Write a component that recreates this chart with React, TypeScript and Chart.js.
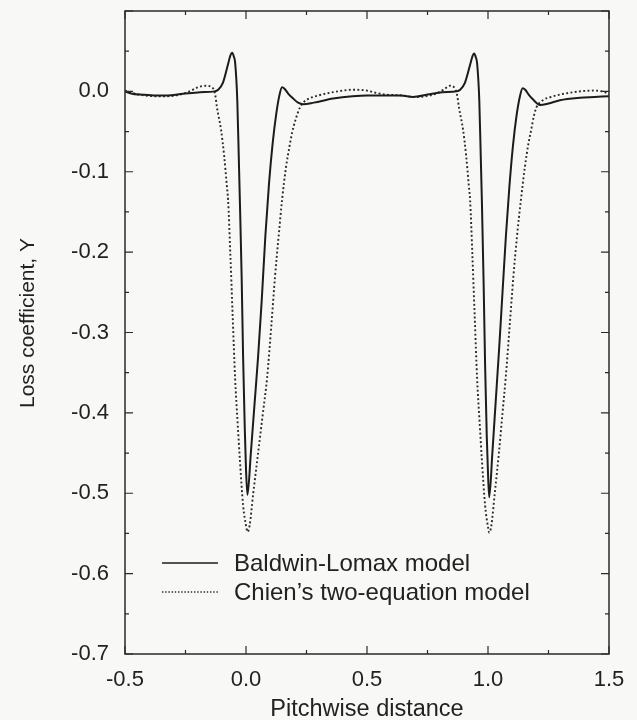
import { useEffect, useRef } from "react";
import { Chart, registerables } from "chart.js";

Chart.register(...registerables);

// ---------------- data ----------------
const seriesLabels = ["Baldwin-Lomax model", "Chien\u2019s two-equation model"];

const blX = [
  -0.5, -0.47, -0.44, -0.38, -0.33, -0.26, -0.19, -0.13, -0.115, -0.095, -0.074, -0.064, -0.057,
  -0.05, -0.045, -0.036, -0.03, -0.025, -0.018, -0.012, -0.005, 0.0, 0.006, 0.02, 0.035, 0.05,
  0.065, 0.08, 0.095, 0.11, 0.125, 0.138, 0.149, 0.16, 0.175, 0.195, 0.215, 0.236, 0.28, 0.36,
  0.44, 0.5, 0.56, 0.64, 0.69, 0.75, 0.81, 0.87, 0.885, 0.905, 0.926, 0.936, 0.943, 0.95, 0.955,
  0.964, 0.97, 0.975, 0.982, 0.988, 0.995, 1.0, 1.005, 1.018, 1.032, 1.046, 1.06, 1.074, 1.088,
  1.103, 1.118, 1.132, 1.143, 1.154, 1.168, 1.186, 1.203, 1.215, 1.25, 1.297, 1.38, 1.44, 1.5,
];
const blY = [
  0.0, -0.003, -0.004, -0.005, -0.005, -0.003, -0.001, 0.0, 0.002, 0.011, 0.034, 0.045, 0.048,
  0.043, 0.036, -0.011, -0.08, -0.14, -0.23, -0.33, -0.42, -0.47, -0.502, -0.45, -0.39, -0.33,
  -0.26, -0.18, -0.115, -0.065, -0.028, -0.005, 0.005, 0.003, -0.003, -0.009, -0.014, -0.016,
  -0.014, -0.009, -0.006, -0.005, -0.005, -0.005, -0.007, -0.004, -0.001, 0.0, 0.002, 0.011, 0.033,
  0.044, 0.047, 0.042, 0.035, -0.011, -0.08, -0.14, -0.24, -0.34, -0.43, -0.475, -0.505, -0.45,
  -0.385, -0.32, -0.25, -0.18, -0.12, -0.068, -0.03, -0.006, 0.004, 0.002, -0.004, -0.01, -0.015,
  -0.017, -0.015, -0.011, -0.008, -0.007, -0.006,
];

const chX = [
  -0.5, -0.47, -0.44, -0.38, -0.33, -0.26, -0.22, -0.2, -0.165, -0.14, -0.128, -0.12, -0.103,
  -0.09, -0.079, -0.074, -0.065, -0.055, -0.045, -0.035, -0.025, -0.012, 0.0, 0.006, 0.015, 0.03,
  0.05, 0.07, 0.087, 0.105, 0.12, 0.135, 0.149, 0.165, 0.18, 0.19, 0.205, 0.223, 0.24, 0.26, 0.3,
  0.36, 0.44, 0.5, 0.525, 0.58, 0.64, 0.7, 0.76, 0.8, 0.825, 0.843, 0.86, 0.872, 0.88, 0.897,
  0.91, 0.921, 0.926, 0.935, 0.945, 0.955, 0.965, 0.975, 0.988, 1.0, 1.005, 1.014, 1.028, 1.045,
  1.06, 1.073, 1.09, 1.105, 1.12, 1.136, 1.152, 1.167, 1.177, 1.19, 1.2, 1.227, 1.26, 1.297, 1.38,
  1.434, 1.47, 1.5,
];
const chY = [
  0.001, -0.002, -0.004, -0.006, -0.006, -0.003, 0.002, 0.005, 0.007, 0.005, -0.003, -0.02,
  -0.048, -0.081, -0.118, -0.135, -0.2, -0.28, -0.357, -0.41, -0.46, -0.515, -0.54, -0.548,
  -0.54, -0.5, -0.45, -0.4, -0.357, -0.29, -0.23, -0.18, -0.135, -0.095, -0.068, -0.052, -0.035,
  -0.02, -0.013, -0.009, -0.005, -0.001, 0.002, 0.001, -0.001, -0.004, -0.005, -0.007, -0.005,
  -0.001, 0.004, 0.007, 0.005, -0.004, -0.02, -0.048, -0.081, -0.118, -0.135, -0.2, -0.28,
  -0.357, -0.41, -0.46, -0.515, -0.542, -0.549, -0.54, -0.5, -0.45, -0.4, -0.357, -0.29, -0.23,
  -0.18, -0.135, -0.095, -0.065, -0.05, -0.03, -0.02, -0.011, -0.007, -0.004, 0.0, 0.001, 0.0,
  -0.003,
];

const xMajorTicks = [-0.5, 0.0, 0.5, 1.0, 1.5];
const xMinorTicks = [-0.25, 0.25, 0.75, 1.25];
const yMajorTicks = [0.1, 0.0, -0.1, -0.2, -0.3, -0.4, -0.5, -0.6, -0.7];
const yMinorTicks = [0.05, -0.05, -0.15, -0.25, -0.35, -0.45, -0.55, -0.65];
const xTitle = "Pitchwise distance";
const yTitle = "Loss coefficient, Y";

const FONT = "'Liberation Sans', Arial, Helvetica, sans-serif";
const INK = "#222222";

const framePlugin = {
  id: "frameAndLegend",
  beforeDraw(chart: any) {
    const { ctx, width, height } = chart;
    ctx.save();
    ctx.fillStyle = "#f8f8f7";
    ctx.fillRect(0, 0, width, height);
    ctx.restore();
  },
  afterDraw(chart: any) {
    const { ctx, chartArea } = chart;
    const { left, right, top, bottom } = chartArea;
    const xs = chart.scales.x;
    const ys = chart.scales.y;
    ctx.save();
    ctx.strokeStyle = "#2a2a2a";
    ctx.lineWidth = 1.5;
    ctx.strokeRect(left, top, right - left, bottom - top);
    ctx.lineWidth = 1.2;
    ctx.beginPath();
    const drawX = (v: number, len: number) => {
      const px = xs.getPixelForValue(v);
      ctx.moveTo(px, bottom);
      ctx.lineTo(px, bottom - len);
      ctx.moveTo(px, top);
      ctx.lineTo(px, top + len);
    };
    const drawY = (v: number, len: number) => {
      const py = ys.getPixelForValue(v);
      ctx.moveTo(left, py);
      ctx.lineTo(left + len, py);
      ctx.moveTo(right, py);
      ctx.lineTo(right - len, py);
    };
    xMajorTicks.forEach((v) => drawX(v, 8));
    xMinorTicks.forEach((v) => drawX(v, 4));
    yMajorTicks.forEach((v) => drawY(v, 8));
    yMinorTicks.forEach((v) => drawY(v, 4));
    ctx.stroke();

    // y title
    ctx.fillStyle = INK;
    ctx.font = `21px ${FONT}`;
    ctx.textAlign = "center";
    ctx.textBaseline = "middle";
    ctx.save();
    ctx.translate(28, 323);
    ctx.rotate(-Math.PI / 2);
    ctx.fillText(yTitle, 0, 0);
    ctx.restore();

    // legend
    const rows = [563, 592];
    chart.data.datasets.forEach((ds: any, i: number) => {
      const yy = rows[i];
      ctx.save();
      ctx.strokeStyle = ds.borderColor;
      ctx.lineWidth = i === 0 ? 1.6 : 1.4;
      ctx.setLineDash(i === 0 ? [] : [1.4, 1.8]);
      ctx.beginPath();
      ctx.moveTo(162, yy);
      ctx.lineTo(218, yy);
      ctx.stroke();
      ctx.restore();
      ctx.fillStyle = INK;
      ctx.font = `24px ${FONT}`;
      ctx.textAlign = "left";
      ctx.textBaseline = "middle";
      ctx.fillText(ds.label, 234, yy + 1);
    });
    ctx.restore();
  },
};

export default function App() {
  const ref = useRef<HTMLCanvasElement | null>(null);
  useEffect(() => {
    if (!ref.current) return;
    const chart = new Chart(ref.current, {
      type: "line",
      data: {
        datasets: [
          {
            label: seriesLabels[0],
            data: blX.map((x, i) => ({ x, y: blY[i] })),
            borderColor: "#1c1c1c",
            borderWidth: 2,
            pointRadius: 0,
            cubicInterpolationMode: "monotone",
            fill: false,
          },
          {
            label: seriesLabels[1],
            data: chX.map((x, i) => ({ x, y: chY[i] })),
            borderColor: "#2a2a2a",
            borderWidth: 1.9,
            borderDash: [1.9, 2.4],
            pointRadius: 0,
            cubicInterpolationMode: "monotone",
            fill: false,
          },
        ],
      },
      options: {
        animation: false,
        responsive: false,
        devicePixelRatio: 1,
        layout: { padding: { top: 11, right: 28, left: 0, bottom: 0 } },
        plugins: { legend: { display: false }, tooltip: { enabled: false } },
        scales: {
          x: {
            type: "linear",
            min: -0.5,
            max: 1.5,
            grid: { display: false, drawTicks: false },
            border: { display: false },
            ticks: {
              stepSize: 0.5,
              padding: 13,
              color: INK,
              font: { size: 22, family: FONT },
              maxRotation: 0,
              callback: (v: any) => (Math.abs(v) < 1e-9 ? "0.0" : Number(v).toFixed(1)),
            },
            title: {
              display: true,
              text: xTitle,
              color: INK,
              font: { size: 23.5, family: FONT },
              padding: { top: 0, bottom: -4 },
            },
            afterFit: (s: any) => {
              s.height = 66;
              s.paddingLeft = 0;
              s.paddingRight = 0;
            },
          },
          y: {
            type: "linear",
            min: -0.7,
            max: 0.1,
            grid: { display: false, drawTicks: false },
            border: { display: false },
            ticks: {
              stepSize: 0.1,
              padding: 16,
              color: INK,
              font: { size: 22, family: FONT },
              callback: (v: any) => {
                const n = Number(v);
                if (n > 0.05) return "";
                return Math.abs(n) < 1e-9 ? "0.0" : n.toFixed(1);
              },
            },
            afterFit: (s: any) => {
              s.width = 125;
              s.paddingTop = 0;
              s.paddingBottom = 0;
            },
          },
        },
      },
      plugins: [framePlugin],
    });
    return () => chart.destroy();
  }, []);
  return (
    <div style={{ position: "fixed", left: 0, top: 0, width: 637, height: 720, background: "#f8f8f7" }}>
      <canvas ref={ref} width={637} height={720} style={{ display: "block", width: 637, height: 720 }} />
    </div>
  );
}
